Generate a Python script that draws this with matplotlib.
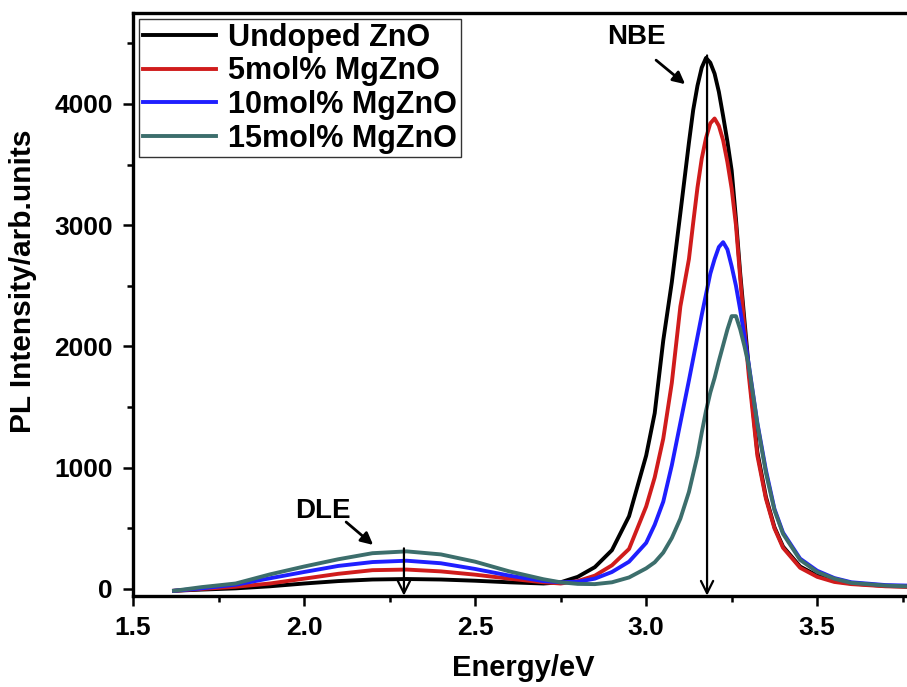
import matplotlib
matplotlib.use("Agg")
import matplotlib.pyplot as plt
from matplotlib.ticker import MultipleLocator

plt.rcParams["font.family"] = ["Liberation Sans", "DejaVu Sans"]
plt.rcParams["font.weight"] = "bold"

energy = [1.62, 1.70, 1.80, 1.90, 2.00, 2.10, 2.20, 2.30, 2.40, 2.50,
          2.60, 2.70, 2.75, 2.80, 2.85, 2.90, 2.95, 3.00, 3.025, 3.05,
          3.075, 3.10, 3.125, 3.1375, 3.15, 3.1625, 3.175, 3.1875, 3.20,
          3.2125, 3.225, 3.2375, 3.25, 3.2625, 3.275, 3.2875, 3.30,
          3.325, 3.35, 3.375, 3.40, 3.45, 3.50, 3.55, 3.60, 3.70, 3.76]

undoped = [-15, -5, 5, 22, 45, 65, 78, 82, 78, 68,
           55, 45, 55, 100, 180, 320, 600, 1100, 1450, 2050,
           2530, 3100, 3680, 3950, 4150, 4300, 4380, 4340, 4250,
           4100, 3900, 3690, 3450, 3050, 2600, 2210, 1820,
           1130, 760, 510, 350, 185, 110, 65, 45, 25, 20]

mg5 = [-15, 0, 18, 45, 85, 125, 155, 160, 145, 118,
       85, 55, 45, 65, 110, 195, 330, 680, 920, 1240,
       1700, 2330, 2720, 3020, 3310, 3550, 3720, 3840, 3880,
       3820, 3700, 3520, 3300, 3000, 2560, 2150, 1760,
       1100, 745, 500, 340, 175, 100, 58, 40, 22, 18]

mg10 = [-15, 5, 35, 88, 140, 190, 222, 233, 212, 165,
        110, 65, 55, 60, 85, 140, 225, 380, 530, 720,
        1020, 1370, 1720, 1900, 2080, 2260, 2430, 2600, 2720,
        2820, 2860, 2800, 2660, 2500, 2300, 2080, 1850,
        1370, 980, 660, 465, 250, 150, 90, 55, 32, 28]

mg15 = [-15, 15, 45, 120, 185, 245, 295, 310, 285, 225,
        145, 80, 55, 42, 40, 55, 95, 170, 220, 300,
        420, 580, 800, 950, 1100, 1290, 1470, 1620, 1740,
        1880, 2010, 2140, 2250, 2250, 2140, 2000, 1840,
        1360, 960, 650, 455, 240, 140, 85, 50, 28, 22]

labels = ["Undoped ZnO", "5mol% MgZnO", "10mol% MgZnO", "15mol% MgZnO"]
colors = ["#000000", "#d01c1c", "#1f1fff", "#3c6e6c"]

fig = plt.figure(figsize=(9.07, 6.87), dpi=100)
ax = fig.add_axes([133 / 907, 91 / 687, 780 / 907, 583 / 687])

for series, lab, col in zip([undoped, mg5, mg10, mg15], labels, colors):
    ax.plot(energy, series, color=col, lw=2.8, label=lab,
            solid_joinstyle="round")

ax.set_xlim(1.5, 3.78)
ax.set_ylim(-58, 4750)

# peak markers
ax.annotate("", xy=(3.178, -55), xytext=(3.178, 4400),
            arrowprops=dict(arrowstyle="->", lw=1.6, color="black",
                            mutation_scale=22, shrinkA=0, shrinkB=0))
ax.annotate("", xy=(2.292, -55), xytext=(2.292, 335),
            arrowprops=dict(arrowstyle="->", lw=1.6, color="black",
                            mutation_scale=22, shrinkA=0, shrinkB=0))

ax.text(2.971, 4555, "NBE", fontsize=20, fontweight="bold",
        ha="center", va="center")
ax.annotate("", xy=(3.114, 4163), xytext=(3.029, 4361),
            arrowprops=dict(arrowstyle="-|>", lw=2, color="black",
                            mutation_scale=18, shrinkA=0, shrinkB=0))
ax.text(2.056, 645, "DLE", fontsize=20, fontweight="bold",
        ha="center", va="center")
ax.annotate("", xy=(2.202, 363), xytext=(2.123, 552),
            arrowprops=dict(arrowstyle="-|>", lw=2, color="black",
                            mutation_scale=18, shrinkA=0, shrinkB=0))

ax.xaxis.set_major_locator(MultipleLocator(0.5))
ax.xaxis.set_minor_locator(MultipleLocator(0.25))
ax.yaxis.set_major_locator(MultipleLocator(1000))
ax.yaxis.set_minor_locator(MultipleLocator(500))
ax.xaxis.set_major_formatter(plt.FuncFormatter(lambda v, p: f"{v:.1f}"))
ax.yaxis.set_major_formatter(plt.FuncFormatter(lambda v, p: f"{v:.0f}"))

ax.tick_params(which="both", direction="out", width=1.8, top=False,
               right=False, labelsize=19)
ax.tick_params(which="major", length=7.5, pad=7)
ax.tick_params(which="minor", length=4.5)
for lab in ax.get_xticklabels() + ax.get_yticklabels():
    lab.set_fontweight("bold")

ax.spines["right"].set_visible(False)
for side in ["left", "bottom", "top"]:
    ax.spines[side].set_linewidth(2.4)

ax.set_xlabel("Energy/eV", fontsize=21, fontweight="bold", labelpad=10)
ax.set_ylabel("PL Intensity/arb.units", fontsize=21.5, fontweight="bold")
ax.yaxis.set_label_coords(-0.123, 0.54)

leg = ax.legend(loc="upper left", fontsize=22, frameon=True, fancybox=False,
                edgecolor="black", handlelength=2.4, handletextpad=0.4,
                labelspacing=0.12, borderpad=0.12, borderaxespad=0.2)
leg.get_frame().set_linewidth(1.0)
for t in leg.get_texts():
    t.set_fontweight("bold")

fig.savefig("out.png", dpi=100)
